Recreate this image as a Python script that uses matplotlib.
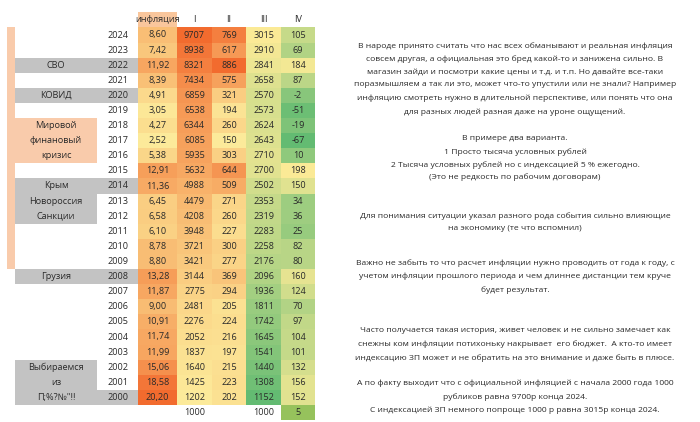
import matplotlib.pyplot as plt
from matplotlib.colors import LinearSegmentedColormap, Normalize
from matplotlib.patches import Rectangle

years = list(range(2024, 1999, -1))
inflation = [8.60, 7.42, 11.92, 8.39, 4.91, 3.05, 4.27, 2.52, 5.38, 12.91, 11.36, 6.45, 6.58,
             6.10, 8.78, 8.80, 13.28, 11.87, 9.00, 10.91, 11.74, 11.99, 15.06, 18.58, 20.20]
col_1 = [9707, 8938, 8321, 7434, 6859, 6538, 6344, 6085, 5935, 5632, 4988, 4479, 4208,
         3948, 3721, 3421, 3144, 2775, 2481, 2276, 2052, 1837, 1640, 1425, 1202]
col_2 = [769, 617, 886, 575, 321, 194, 260, 150, 303, 644, 509, 271, 260,
         227, 300, 277, 369, 294, 205, 224, 216, 197, 215, 223, 202]
col_3 = [3015, 2910, 2841, 2658, 2570, 2573, 2624, 2643, 2710, 2700, 2502, 2353, 2319,
         2283, 2258, 2176, 2096, 1936, 1811, 1742, 1645, 1541, 1440, 1308, 1152]
col_4 = [105, 69, 184, 87, -2, -51, -19, -67, 10, 198, 150, 34, 36,
         25, 82, 80, 160, 124, 70, 97, 104, 101, 132, 156, 152]
headers = ["инфляция", "I", "II", "III", "IV"]
base_row = ["", "1000", "", "1000", "5"]

# events: (label lines, first year, last year, colour)
events = [
    (["СВО"], 2022, 2022, "grey"),
    (["КОВИД"], 2020, 2020, "grey"),
    (["Мировой", "финановый", "кризис"], 2018, 2016, "peach"),
    (["Крым", "Новороссия", "Санкции"], 2014, 2012, "grey"),
    (["Грузия"], 2008, 2008, "grey"),
    (["Выбираемся", "из", "П;%?№\"!!"], 2002, 2000, "grey"),
]
full_grey_years = [2022, 2020, 2014, 2008, 2000]

notes = [
    "В народе принято считать что нас всех обманывают и реальная инфляция",
    "совсем другая, а официальная это бред какой-то и занижена сильно. В",
    "магазин зайди и посмотри какие цены и т.д. и т.п. Но давайте все-таки",
    "поразмышляем а так ли это, может что-то упустили или не знали? Например",
    "инфляцию смотреть нужно в длительной перспективе, или понять что она",
    "для разных людей разная даже на уроне ощущений.",
    "В примере два варианта.",
    "1 Просто тысяча условных рублей",
    "2 Тысяча условных рублей но с индексацией 5 % ежегодно.",
    "(Это не редкость по рабочим договорам)",
    "Для понимания ситуации указал разного рода события сильно влияющие",
    "на экономику (те что вспомнил)",
    "Важно не забыть то что расчет инфляции нужно проводить от года к году, с",
    "учетом инфляции прошлого периода и чем длиннее дистанции тем круче",
    "будет результат.",
    "Часто получается такая история, живет человек и не сильно замечает как",
    "снежны ком инфляции потихоньку накрывает  его бюджет.  А кто-то имеет",
    "индексацию ЗП может и не обратить на это внимание и даже быть в плюсе.",
    "А по факту выходит что с официальной инфляцией с начала 2000 года 1000",
    "рубликов равна 9700р конца 2024.",
    "С индексацией ЗП немного попроще 1000 р равна 3015р конца 2024.",
]
note_y = [46, 59, 72, 85, 98, 112, 139, 152, 165, 177, 216, 229, 263, 276, 290,
          331, 344, 358, 383, 397, 410]

TXT = "#2a2a2a"
GREY = "#c3c3c3"
PEACH = "#f9cbab"
FONT = "Open Sans"

warm = LinearSegmentedColormap.from_list("warm", ["#fcea9a", "#f26b2e"])
cool = LinearSegmentedColormap.from_list("cool", ["#63bb72", "#fbea96"])

row_h = 15.1
top = 35  # centre of the 2024 row
col_edges = [138, 177, 212, 246, 281, 315]
label_x0, label_x1, year_x1 = 15, 97, 138


def row_y(i):
    return top + i * row_h


def cell(ax, x0, x1, i, colour):
    ax.add_patch(Rectangle((x0, row_y(i) - row_h / 2), x1 - x0, row_h, color=colour, lw=0))


def label(ax, x, i, s, size=6.6):
    ax.text(x, row_y(i), s, ha="center", va="center", fontsize=size, color=TXT, family=FONT)


fig = plt.figure(figsize=(7, 4.22), dpi=100)
ax = fig.add_axes([0, 0, 1, 1])
ax.set_xlim(0, 700)
ax.set_ylim(422, 0)
ax.axis("off")

# left peach strip down to 2009
last = years.index(2009)
ax.add_patch(Rectangle((7, row_y(0) - row_h / 2), 8, row_h * (last + 1), color=PEACH, lw=0))

for lines, y0, y1, kind in events:
    i0, i1 = years.index(y0), years.index(y1)
    colour = GREY if kind == "grey" else PEACH
    ax.add_patch(Rectangle((label_x0, row_y(i0) - row_h / 2), label_x1 - label_x0,
                           row_h * (i1 - i0 + 1), color=colour, lw=0))
    for k, line in enumerate(lines):
        label(ax, (label_x0 + label_x1) / 2, i0 + k, line)

for yr in full_grey_years:
    cell(ax, label_x1, year_x1, years.index(yr), GREY)

for i, yr in enumerate(years):
    label(ax, 118, i, str(yr))

columns = [inflation, col_1, col_2, col_3, col_4]
cmaps = [warm, warm, warm, cool, cool]
for c, (vals, cmap) in enumerate(zip(columns, cmaps)):
    x0, x1 = col_edges[c], col_edges[c + 1]
    xc = (x0 + x1) / 2
    norm = Normalize(min(vals), max(vals))
    for i, v in enumerate(vals):
        cell(ax, x0, x1, i, cmap(norm(v)))
        s = f"{v:.2f}".replace(".", ",") if c == 0 else str(v)
        label(ax, xc, i, s)
    if c == 0:
        cell(ax, x0, x1, -1, "#f9c69c")
    label(ax, xc, -1, headers[c])
    if base_row[c]:
        if c == 4:
            cell(ax, x0, x1, len(years), "#96c25c")
        label(ax, xc, len(years), base_row[c])

for y, line in zip(note_y, notes):
    ax.text(515, y, line, ha="center", va="center", fontsize=6.1, color=TXT, family=FONT)

fig.savefig("out.png", dpi=100)
